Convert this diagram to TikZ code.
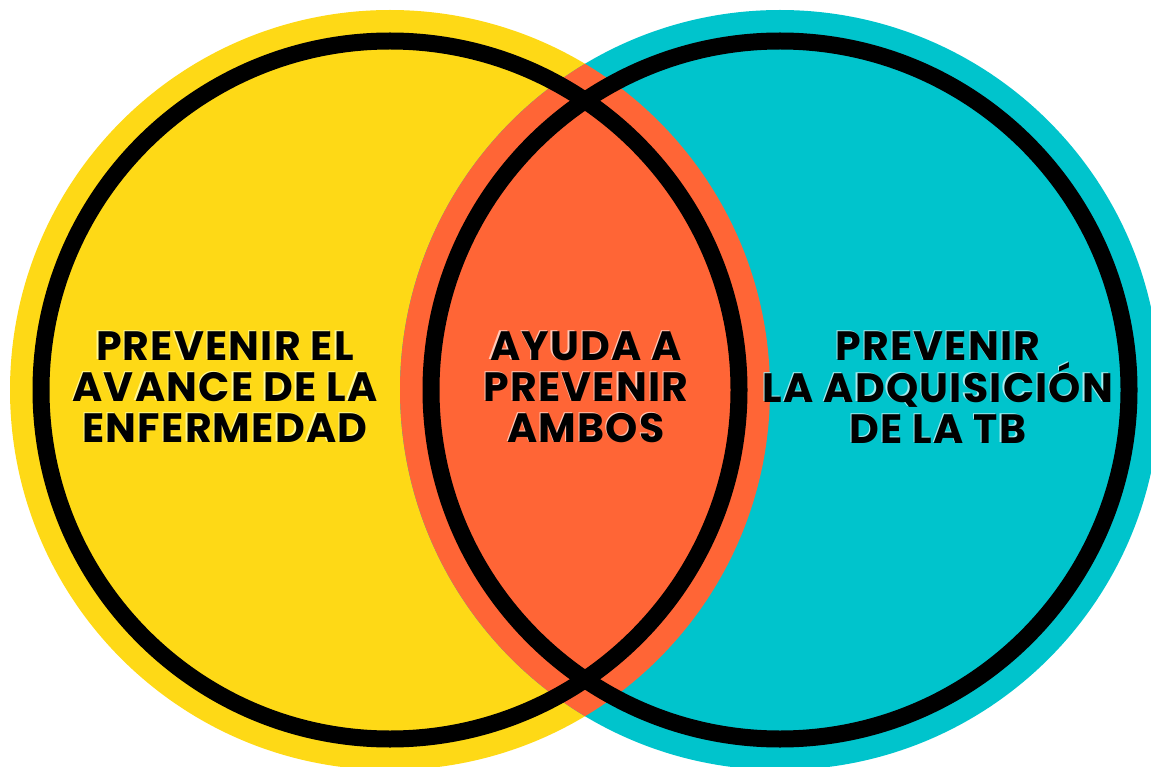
\documentclass[tikz,border=0pt]{standalone}
\usepackage{fontspec}
\setmainfont{Poppins}
\usetikzlibrary{positioning}

\definecolor{vennyellow}{RGB}{254,217,22}
\definecolor{venncyan}{RGB}{0,196,204}
\definecolor{vennorange}{RGB}{255,101,54}

% light rim on the left/top of the letters
\newcommand{\halo}[2]{\leavevmode\rlap{\kern-1.3pt\raisebox{1pt}{\textcolor{#1}{#2}}}#2}

\tikzset{
  disc/.style={fill=#1},
  ring/.style={draw=black, line width=17pt},
  vennlabel/.style={font=\fontsize{41}{41}\selectfont\bfseries\addfontfeature{LetterSpace=3},
    align=center, text=black, inner sep=0pt}
}

\begin{document}
\begin{tikzpicture}[x=1pt,y=-1pt]
  \useasboundingbox (0,0) rectangle (1151,767);
  \coordinate (lc) at (390,390);
  \coordinate[right=390pt of lc] (rc);
  %
  \fill[disc=vennyellow] (lc) circle[radius=380pt];
  \fill[disc=venncyan] (rc) circle[radius=380pt];
  \begin{scope}
    \clip (rc) circle[radius=380pt];
    \fill[disc=vennorange] (lc) circle[radius=380pt];
  \end{scope}
  %
  \draw[ring] (lc) circle[radius=349pt];
  \draw[ring] (rc) circle[radius=349pt];
  %
  \node[vennlabel] (avance) at (225,387)
    {\halo{yellow!40}{PREVENIR EL}\\ \halo{yellow!40}{AVANCE DE LA}\\ \halo{yellow!40}{ENFERMEDAD}};
  \node[vennlabel] (ambos) at (586,387)
    {\halo{vennorange!35}{AYUDA A}\\ \halo{vennorange!35}{PREVENIR}\\ \halo{vennorange!35}{AMBOS}};
  \node[vennlabel] (adquisicion) at (938,387)
    {\halo{venncyan!35}{PREVENIR}\\ \halo{venncyan!35}{LA ADQUISICIÓN}\\ \halo{venncyan!35}{DE LA TB}};
\end{tikzpicture}
\end{document}
